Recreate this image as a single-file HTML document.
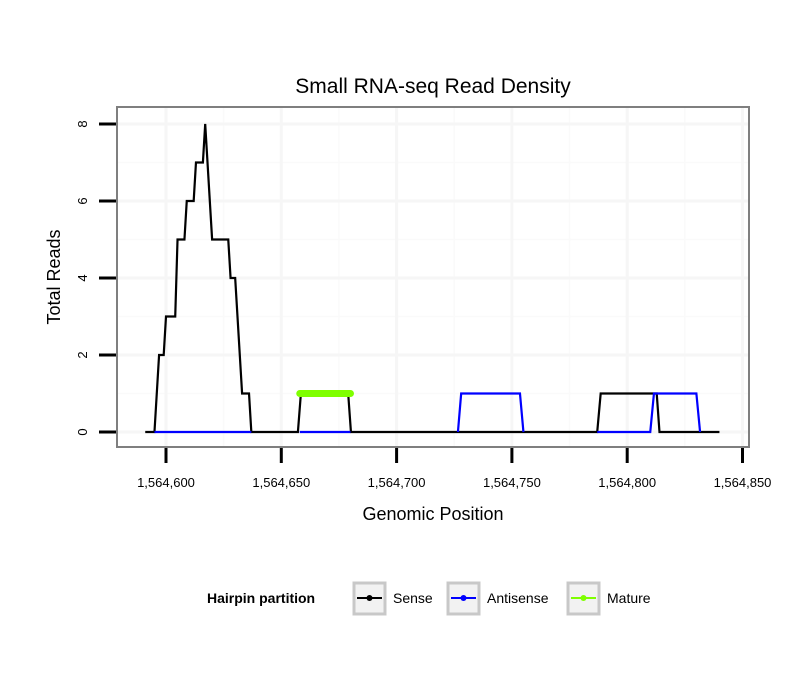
<!DOCTYPE html>
<html><head><meta charset="utf-8"><style>
body{margin:0;background:#fff;font-family:"Liberation Sans",sans-serif}
</style></head><body>
<svg id="chart" width="810" height="690">
<rect width="810" height="690" fill="#fff"/>
<text x="433" y="93" font-size="21" text-anchor="middle">Small RNA-seq Read Density</text>
<g id="grid"></g>
<g id="series"></g>
<rect x="117" y="107" width="632" height="340" fill="none" stroke="#7f7f7f" stroke-width="2"/>
<g id="axes"></g>
<text x="433" y="520" font-size="18" text-anchor="middle">Genomic Position</text>
<text transform="translate(60,277) rotate(-90)" font-size="18" text-anchor="middle">Total Reads</text>
<g>
<text x="207" y="603" font-size="14" font-weight="bold">Hairpin partition</text>
<g><rect x="354" y="583" width="31" height="31" fill="#f2f2f2" stroke="#c8c8c8" stroke-width="3"/><line x1="357" y1="598" x2="382" y2="598" stroke="#000" stroke-width="2"/><circle cx="369.5" cy="598" r="3" fill="#000"/><text x="393" y="603" font-size="14">Sense</text></g>
<g><rect x="448" y="583" width="31" height="31" fill="#f2f2f2" stroke="#c8c8c8" stroke-width="3"/><line x1="451" y1="598" x2="476" y2="598" stroke="#00f" stroke-width="2"/><circle cx="463.5" cy="598" r="3" fill="#00f"/><text x="487" y="603" font-size="14">Antisense</text></g>
<g><rect x="568" y="583" width="31" height="31" fill="#f2f2f2" stroke="#c8c8c8" stroke-width="3"/><line x1="571" y1="598" x2="596" y2="598" stroke="#7fff00" stroke-width="2"/><circle cx="583.5" cy="598" r="3" fill="#7fff00"/><text x="607" y="603" font-size="14">Mature</text></g>
</g>
</svg>
<script>
const xTicks=[1564600,1564650,1564700,1564750,1564800,1564850];
const xTickLabels=["1,564,600","1,564,650","1,564,700","1,564,750","1,564,800","1,564,850"];
const yTicks=[0,2,4,6,8];
const senseX=[1564591,1564595,1564597,1564599,1564600,1564604,1564605,1564608,1564609,1564612,1564613,1564616,1564617,1564620,1564627,1564628,1564630,1564633,1564636,1564637,1564657.2,1564658.5,1564679,1564680.2,1564787,1564788.5,1564812.8,1564814,1564840];
const senseY=[0,0,2,2,3,3,5,5,6,6,7,7,8,5,5,4,4,1,1,0,0,1,1,0,0,1,1,0,0];
// null separates disjoint antisense segments
const antisenseX=[1564595,1564637,null,1564658,1564680,null,1564726.6,1564728,1564753.5,1564755,null,1564787,1564810,1564811.6,1564830,1564831.6];
const antisenseY=[0,0,null,0,0,null,0,1,1,0,null,0,0,1,1,0];
const matureX=[1564658,1564680];
const matureY=[1,1];
const sx=v=>166+(v-1564600)*2.306;
const sy=v=>432-v*38.5;
const NS="http://www.w3.org/2000/svg";
function mk(tag,attrs,parent){const e=document.createElementNS(NS,tag);for(const k in attrs)e.setAttribute(k,attrs[k]);parent.appendChild(e);return e;}
const grid=document.getElementById('grid'),axes=document.getElementById('axes'),ser=document.getElementById('series');
for(let i=0;i<xTicks.length-1;i++){const m=(xTicks[i]+xTicks[i+1])/2;const l=mk('line',{x1:sx(m),x2:sx(m),y1:108,y2:446,stroke:'#fafafa','stroke-width':1.5},grid);
}
for(let i=0;i<yTicks.length;i++){const m=yTicks[i]+1;if(sy(m)<108)continue;const l=mk('line',{x1:118,x2:748,y1:sy(m),y2:sy(m),stroke:'#fafafa','stroke-width':1.5},grid);
}
xTicks.forEach((t,i)=>{if(sx(t)<748){const l=mk('line',{x1:sx(t),x2:sx(t),y1:108,y2:446,stroke:'#f6f6f6','stroke-width':3},grid);
}
const tk=mk('line',{x1:sx(t),x2:sx(t),y1:448,y2:463,stroke:'#000','stroke-width':3},axes);

const tx=mk('text',{x:sx(t),y:487,'font-size':13,'text-anchor':'middle'},axes);tx.textContent=xTickLabels[i];
});
yTicks.forEach(t=>{const l=mk('line',{x1:118,x2:748,y1:sy(t),y2:sy(t),stroke:'#f6f6f6','stroke-width':3},grid);

const tk=mk('line',{x1:99,x2:116,y1:sy(t),y2:sy(t),stroke:'#000','stroke-width':3},axes);

const tx=mk('text',{transform:`translate(87,${sy(t)}) rotate(-90)`,'font-size':13,'text-anchor':'middle'},axes);tx.textContent=t;
});
function line(xs,ys,color,w,name,cap){let d='',pen=false;
xs.forEach((x,i)=>{if(x===null||ys[i]===null){pen=false;return;}d+=(pen?'L':'M')+sx(x)+','+sy(ys[i]);pen=true;});
const p=mk('path',{d:d,fill:'none',stroke:color,'stroke-width':w,'stroke-linecap':cap||'butt'},ser);
}
line(senseX,senseY,'#000',2.2,'sense-line');
line(antisenseX,antisenseY,'#00f',2.2,'antisense-line');
line(matureX,matureY,'#7fff00',7,'mature-line','round');
</script>
</body></html>
